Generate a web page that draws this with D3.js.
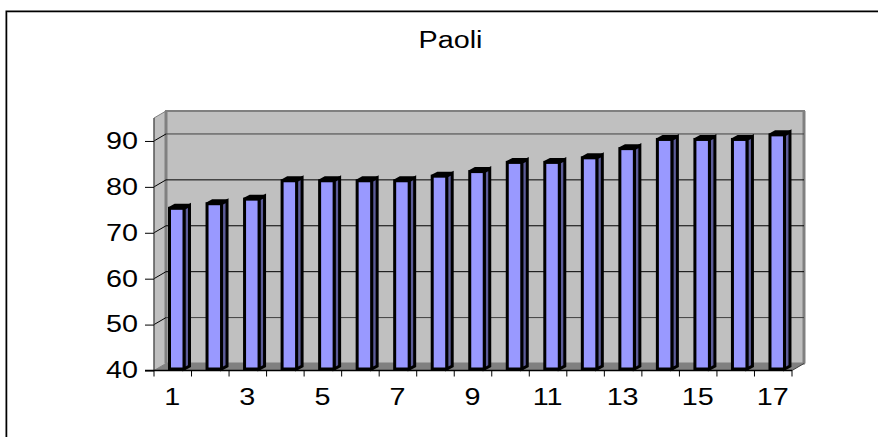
<!DOCTYPE html>
<html><head><meta charset="utf-8">
<script src="https://cdn.jsdelivr.net/npm/d3@7"></script>
<style>html,body{margin:0;padding:0;background:#fff}svg{display:block}text{font-family:"Liberation Sans",Arial,sans-serif;fill:#000}</style>
</head><body><div id="c"></div>
<script>
const title = "Paoli";
const categories = [1,2,3,4,5,6,7,8,9,10,11,12,13,14,15,16,17];
const values = [75,76,77,81,81,81,81,82,83,85,85,86,88,90,90,90,91];
const yTicks = [40,50,60,70,80,90];

const W=878,H=437, dx=12, dy=-7;
const svg=d3.select("#c").append("svg").attr("width",W).attr("height",H);
const x=d3.scaleBand().domain(categories).range([154,792]);
const y=d3.scaleLinear().domain([40,95]).range([370.5,118]);
const x0=154,x1=792,yB=y(40),yT=y(95);
const FS=23, SX=1.25;

// outer frame
svg.append("path").attr("d",`M6.5,${H}V11.5H${W}`).attr("fill","none").attr("stroke","#000").attr("stroke-width",2);
svg.append("path").attr("d",`M7.5,${H}V12.5H${W}`).attr("fill","none").attr("stroke","#bbb").attr("stroke-width",1);

// walls
const poly=(pts,fill,stroke,sw)=>svg.append("polygon").attr("points",pts.map(p=>p.join(",")).join(" ")).attr("fill",fill).attr("stroke",stroke||"none").attr("stroke-width",sw||0);
poly([[x0+dx,yT+dy],[x1+dx,yT+dy],[x1+dx,yB+dy],[x0+dx,yB+dy]],"#c0c0c0","#808080",2);
poly([[x0,yT],[x0+dx,yT+dy],[x0+dx,yB+dy],[x0,yB]],"#c0c0c0","#808080",1);
poly([[x0,yB],[x0+dx,yB+dy],[x1+dx,yB+dy],[x1,yB]],"#808080");
svg.append("line").attr("x1",x0+dx).attr("x2",x0+dx).attr("y1",yT+dy).attr("y2",yB+dy).attr("stroke","#808080").attr("stroke-width",3);
svg.append("line").attr("x1",x1+dx).attr("x2",x1+dx).attr("y1",yT+dy).attr("y2",yB+dy).attr("stroke","#808080").attr("stroke-width",3);
svg.append("line").attr("x1",x1).attr("x2",x1+dx).attr("y1",yB).attr("y2",yB+dy).attr("stroke","#404040");

// gridlines
yTicks.filter(t=>t>40).forEach(t=>{
  svg.append("line").attr("x1",x0+dx).attr("x2",x1+dx).attr("y1",y(t)+dy).attr("y2",y(t)+dy).attr("stroke",(t==90||t==50)?"#404040":"#000").attr("stroke-width",1);
  svg.append("line").attr("x1",x0).attr("x2",x0+dx).attr("y1",y(t)).attr("y2",y(t)+dy).attr("stroke","#000");
});

// bars
const bw=14.5, bd=5.5, rise=3, off=15.5;
const g=svg.append("g").attr("stroke","#000").attr("stroke-width",3).attr("stroke-linejoin","miter");
categories.forEach((c,i)=>{
  const l=x(c)+off, r=l+bw, t=y(values[i])-1.5, b=y(40)-1.5;
  g.append("polygon").attr("points",`${l},${t} ${l+bd},${t-rise} ${r+bd},${t-rise} ${r},${t}`).attr("fill","#8080c0");
  g.append("polygon").attr("points",`${r},${t} ${r+bd},${t-rise} ${r+bd},${b-rise} ${r},${b}`).attr("fill","#5c5c99");
  g.append("rect").attr("x",l).attr("y",t).attr("width",bw).attr("height",b-t).attr("fill","#9999ff");
});

// axes
const axY=d3.axisLeft(y).tickValues(yTicks).tickSize(9);
const gy=svg.append("g").attr("transform",`translate(${x0},0)`).call(axY);
gy.select(".domain").attr("d",`M0,${yT}V${yB}`).attr("stroke","#404040");
gy.selectAll("text").attr("x",0).attr("font-size",FS).attr("transform",`translate(-16,0) scale(${SX},1)`);

svg.append("line").attr("x1",x0-9).attr("x2",x1).attr("y1",yB).attr("y2",yB).attr("stroke","#000").attr("stroke-width",1.5);
const xt=svg.append("g");
categories.concat([18]).forEach((c,i)=>{
  const px=i<17?x(c):x1;
  xt.append("line").attr("x1",px).attr("x2",px).attr("y1",yB).attr("y2",yB+6).attr("stroke","#000");
});
categories.forEach((c,i)=>{ if(i%2==0)
  xt.append("text").attr("transform",`translate(${x(c)+x.bandwidth()/2-0.5},405) scale(${SX},1)`).attr("text-anchor","middle").attr("font-size",FS).text(c);
});

svg.append("text").attr("transform",`translate(450.5,48) scale(${SX},1)`).attr("text-anchor","middle").attr("font-size",FS).text(title);
</script></body></html>
